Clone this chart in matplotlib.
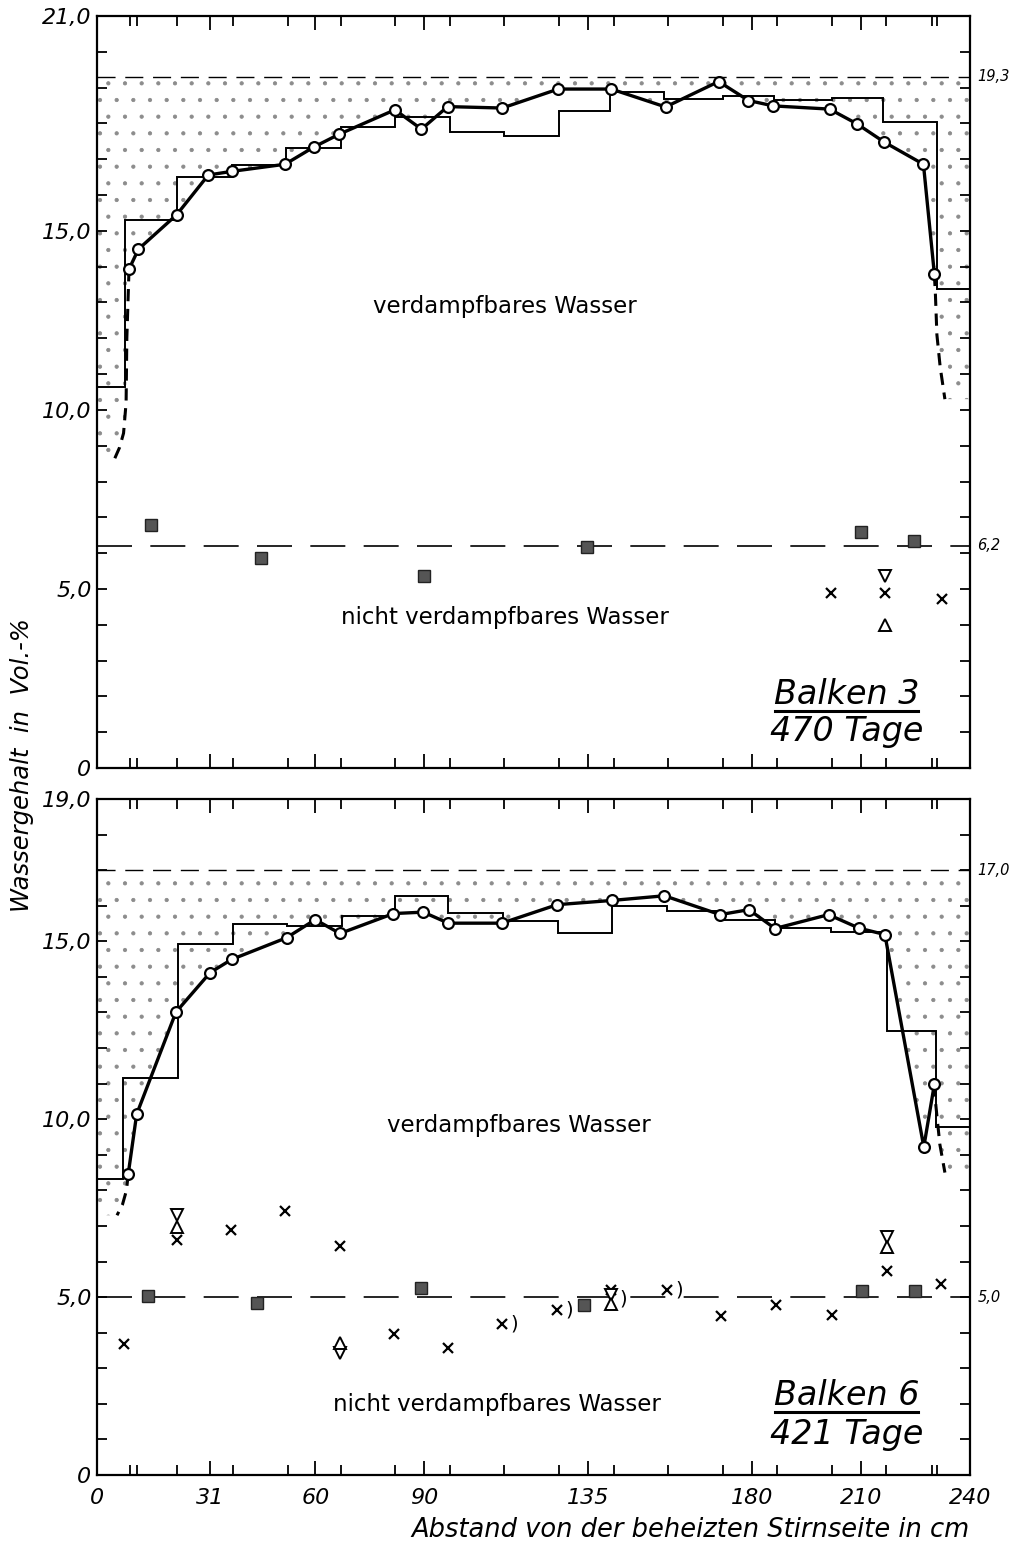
import matplotlib
matplotlib.use('Agg')
import matplotlib.pyplot as plt
from matplotlib.patches import Polygon
from matplotlib.ticker import FixedLocator
import numpy as np

plt.rcParams['font.family'] = ['DejaVu Sans']
plt.rcParams['font.style'] = 'italic'
plt.rcParams['hatch.linewidth'] = 0.6
plt.rcParams['hatch.color'] = '#8c8c8c'

# ---------------- x axis ----------------
x_major = [0, 31, 60, 90, 135, 180, 210, 240]
x_major_labels = ['0', '31', '60', '90', '135', '180', '210', '240']
x_minor = [9, 11, 22, 37.5, 52.5, 67, 82, 97, 112, 127, 142, 157, 172, 187,
           202, 217, 229.5, 231]

# ---------------- Balken 3 (top panel) ----------------
top_ymax = 21
top_ytick_vals = [0, 5, 10, 15, 21]
top_ytick_labels = ['0', '5,0', '10,0', '15,0', '21,0']
top_upper_level = 19.3
top_lower_level = 6.2
top_circ_x = [8.8, 11.4, 21.9, 30.6, 37.0, 51.7, 59.6, 66.6, 81.9, 89.2, 96.4,
              111.4, 126.8, 141.4, 156.3, 170.9, 179.1, 185.9, 201.4, 208.9,
              216.4, 227.2, 230.2]
top_circ_y = [13.93, 14.49, 15.45, 16.56, 16.66, 16.86, 17.34, 17.70, 18.38,
              17.84, 18.47, 18.43, 18.96, 18.96, 18.46, 19.17, 18.64, 18.49,
              18.40, 17.99, 17.48, 16.86, 13.80]
top_step_edges = [0, 7.75, 22, 37, 52, 67, 82, 97, 112, 127, 141, 156, 172, 186,
                  202, 216, 231, 240]
top_step_levels = [10.65, 15.3, 16.5, 16.85, 17.3, 17.9, 18.17, 17.75, 17.65,
                   18.35, 18.87, 18.68, 18.77, 18.66, 18.72, 18.03, 13.37]
top_lext_x = [8.8, 8.2, 8.0, 7.3, 6.2, 4.9]
top_lext_y = [13.93, 12.0, 10.2, 9.35, 8.95, 8.65]
top_rext_x = [230.2, 230.5, 230.9, 231.8, 233.1]
top_rext_y = [13.80, 13.2, 12.1, 11.2, 10.3]
top_sq_x = [14.8, 45.0, 89.8, 134.8, 209.9, 224.5]
top_sq_y = [6.79, 5.86, 5.36, 6.17, 6.58, 6.34]
top_cross_x = [201.7, 216.6, 232.4]
top_cross_y = [4.88, 4.88, 4.73]
top_tdown_x = [216.6]
top_tdown_y = [5.35]
top_tup_x = [216.6]
top_tup_y = [3.98]
top_br_x = []
top_br_y = []

# ---------------- Balken 6 (bottom panel) ----------------
bot_ymax = 19
bot_ytick_vals = [0, 5, 10, 15, 19]
bot_ytick_labels = ['0', '5,0', '10,0', '15,0', '19,0']
bot_upper_level = 17.0
bot_lower_level = 5.0
bot_circ_x = [8.6, 10.9, 21.7, 31.1, 37.0, 52.1, 60.0, 66.8, 81.5, 89.7, 96.6,
              111.3, 126.5, 141.7, 156.0, 171.3, 179.2, 186.4, 201.1, 209.5,
              216.6, 227.3, 230.2]
bot_circ_y = [8.47, 10.14, 13.01, 14.12, 14.49, 15.10, 15.61, 15.22, 15.78,
              15.82, 15.51, 15.51, 16.03, 16.15, 16.28, 15.75, 15.89, 15.36,
              15.75, 15.37, 15.19, 9.22, 10.98]
bot_step_edges = [0, 7.2, 22.2, 37.5, 52.1, 67.3, 81.9, 96.6, 111.7, 126.8,
                  141.7, 156.6, 171.7, 186.4, 201.9, 217.1, 230.7, 240]
bot_step_levels = [8.33, 11.17, 14.93, 15.50, 15.42, 15.70, 16.28, 15.79, 15.56,
                   15.24, 15.98, 15.85, 15.59, 15.38, 15.26, 12.48, 9.77]
bot_lext_x = [8.6, 8.1, 7.0, 5.5]
bot_lext_y = [8.47, 8.0, 7.6, 7.3]
bot_rext_x = [230.2, 230.4, 231.0, 231.7, 233.1]
bot_rext_y = [10.98, 10.6, 10.0, 9.3, 8.5]
bot_sq_x = [13.9, 44.0, 89.0, 134.0, 210.3, 225.0]
bot_sq_y = [5.02, 4.84, 5.25, 4.79, 5.18, 5.18]
bot_cross_x = [7.3, 22.1, 36.8, 51.8, 66.9, 81.6, 96.4, 111.3, 126.5, 141.2,
               156.7, 171.5, 186.7, 202.1, 217.2, 232.1]
bot_cross_y = [3.67, 6.60, 6.88, 7.42, 6.45, 3.95, 3.58, 4.25, 4.65, 5.21,
               5.21, 4.46, 4.79, 4.51, 5.74, 5.36]
bot_tdown_x = [22.1, 66.9, 141.2, 217.2]
bot_tdown_y = [7.30, 3.44, 5.05, 6.70]
bot_tup_x = [22.1, 66.9, 141.2, 217.2]
bot_tup_y = [6.97, 3.72, 4.80, 6.40]
bot_br_x = [111.3, 126.5, 141.2, 156.7]
bot_br_y = [4.25, 4.65, 4.95, 5.21]

W, H = 1009, 1544
fig = plt.figure(figsize=(W / 100, H / 100), dpi=100)

ax_top = fig.add_axes([97 / W, 1 - 768 / H, 873 / W, (768 - 16) / H])
ax_bot = fig.add_axes([97 / W, 1 - 1475 / H, 873 / W, (1475 - 799) / H])


def draw_panel(ax, ymax, ytv, ytl, up, low, cx, cy, se, sl, lx, ly, rx, ry,
               sqx, sqy, crx, cry, tdx, tdy, tux, tuy, brx, bry,
               title1, title2, show_xlabels):
    ax.set_xlim(0, 240)
    ax.set_ylim(0, ymax)
    # stipple region (evaporable water)
    xs = [0, 240, 240] + rx[::-1] + cx[::-1] + lx + [0]
    ys = [up, up, ry[-1]] + ry[::-1] + cy[::-1] + ly + [ly[-1]]
    poly = Polygon(np.column_stack([xs, ys]), closed=True, facecolor='none',
                   edgecolor='#8c8c8c', hatch='.', lw=0, zorder=1)
    ax.add_patch(poly)
    # level lines
    ax.axhline(up, color='k', lw=1.0, dashes=(13, 7), zorder=2)
    ax.axhline(low, color='k', lw=1.2, dashes=(21, 11), zorder=2)
    # step line
    ax.stairs(sl, se, color='k', lw=1.4, baseline=None, zorder=3)
    # extrapolations
    ax.plot(lx, ly, color='k', lw=2.2, dashes=(4, 2.5), zorder=3)
    ax.plot(rx, ry, color='k', lw=2.2, dashes=(4, 2.5), zorder=3)
    # circle line
    ax.plot(cx, cy, '-o', color='k', lw=2.4, ms=7.8, mfc='white', mec='k',
            mew=1.6, zorder=4)
    # non-evaporable water markers
    ax.plot(sqx, sqy, 's', ms=8.5, mfc='#555555', mec='#222222', mew=1.0,
            zorder=5)
    ax.plot(crx, cry, 'x', ms=7.5, mec='k', mew=1.6, zorder=5)
    ax.plot(tdx, tdy, 'v', ms=9, mfc='white', mec='k', mew=1.4, zorder=5)
    ax.plot(tux, tuy, '^', ms=9, mfc='white', mec='k', mew=1.4, zorder=5)
    for bx, by in zip(brx, bry):
        ax.annotate(')', (bx, by), xytext=(9, 0), textcoords='offset points',
                    ha='center', va='center', fontsize=14, style='normal')
    # right labels
    for lv in (up, low):
        ax.text(242, lv, ('%.1f' % lv).replace('.', ','), fontsize=10.5,
                va='center', ha='left', clip_on=False)
    # ticks
    ax.xaxis.set_major_locator(FixedLocator(x_major))
    ax.xaxis.set_minor_locator(FixedLocator(x_minor))
    ax.set_xticklabels(x_major_labels if show_xlabels else [])
    ax.yaxis.set_major_locator(FixedLocator(ytv))
    ax.yaxis.set_minor_locator(FixedLocator(list(range(0, ymax + 1))))
    ax.set_yticklabels(ytl)
    ax.tick_params(which='both', direction='in', top=True, right=True,
                   bottom=True, left=True, width=1.3, colors='k')
    ax.tick_params(axis='x', which='major', length=10, pad=9, labelsize=16)
    ax.tick_params(axis='x', which='minor', length=7)
    ax.tick_params(axis='y', which='both', length=7)
    ax.tick_params(axis='y', which='major', pad=4, labelsize=16)
    for sp in ax.spines.values():
        sp.set_linewidth(1.6)
    # titles
    ax.text(0.859, 0.085 if ymax == 21 else 0.104, title1,
            transform=ax.transAxes, ha='center', va='baseline', fontsize=24)
    ax.text(0.859, 0.036 if ymax == 21 else 0.046, title2,
            transform=ax.transAxes, ha='center', va='baseline', fontsize=24)
    yu = 0.076 if ymax == 21 else 0.093
    ax.plot([0.777, 0.941], [yu, yu], transform=ax.transAxes, color='k',
            lw=2.2, clip_on=False)


draw_panel(ax_top, top_ymax, top_ytick_vals, top_ytick_labels, top_upper_level,
           top_lower_level, top_circ_x, top_circ_y, top_step_edges,
           top_step_levels, top_lext_x, top_lext_y, top_rext_x, top_rext_y,
           top_sq_x, top_sq_y, top_cross_x, top_cross_y, top_tdown_x,
           top_tdown_y, top_tup_x, top_tup_y, top_br_x, top_br_y,
           'Balken 3', '470 Tage', False)
draw_panel(ax_bot, bot_ymax, bot_ytick_vals, bot_ytick_labels, bot_upper_level,
           bot_lower_level, bot_circ_x, bot_circ_y, bot_step_edges,
           bot_step_levels, bot_lext_x, bot_lext_y, bot_rext_x, bot_rext_y,
           bot_sq_x, bot_sq_y, bot_cross_x, bot_cross_y, bot_tdown_x,
           bot_tdown_y, bot_tup_x, bot_tup_y, bot_br_x, bot_br_y,
           'Balken 6', '421 Tage', True)

ax_top.text(112.2, 12.88, 'verdampfbares Wasser', ha='center', va='center',
            fontsize=16.5, style='normal')
ax_top.text(112.2, 4.19, 'nicht verdampfbares Wasser', ha='center',
            va='center', fontsize=16.5, style='normal')
ax_bot.text(116, 9.83, 'verdampfbares Wasser', ha='center', va='center',
            fontsize=16.5, style='normal')
ax_bot.text(110, 1.99, 'nicht verdampfbares Wasser', ha='center',
            va='center', fontsize=16.5, style='normal')

fig.text(22 / W, 1 - 765 / H, 'Wassergehalt  in  Vol.-%', rotation=90,
         ha='center', va='center', fontsize=17.5)
fig.text(690 / W, 1 - 1530 / H, 'Abstand von der beheizten Stirnseite in cm',
         ha='center', va='center', fontsize=18.5)

fig.savefig('out.png', dpi=100)
